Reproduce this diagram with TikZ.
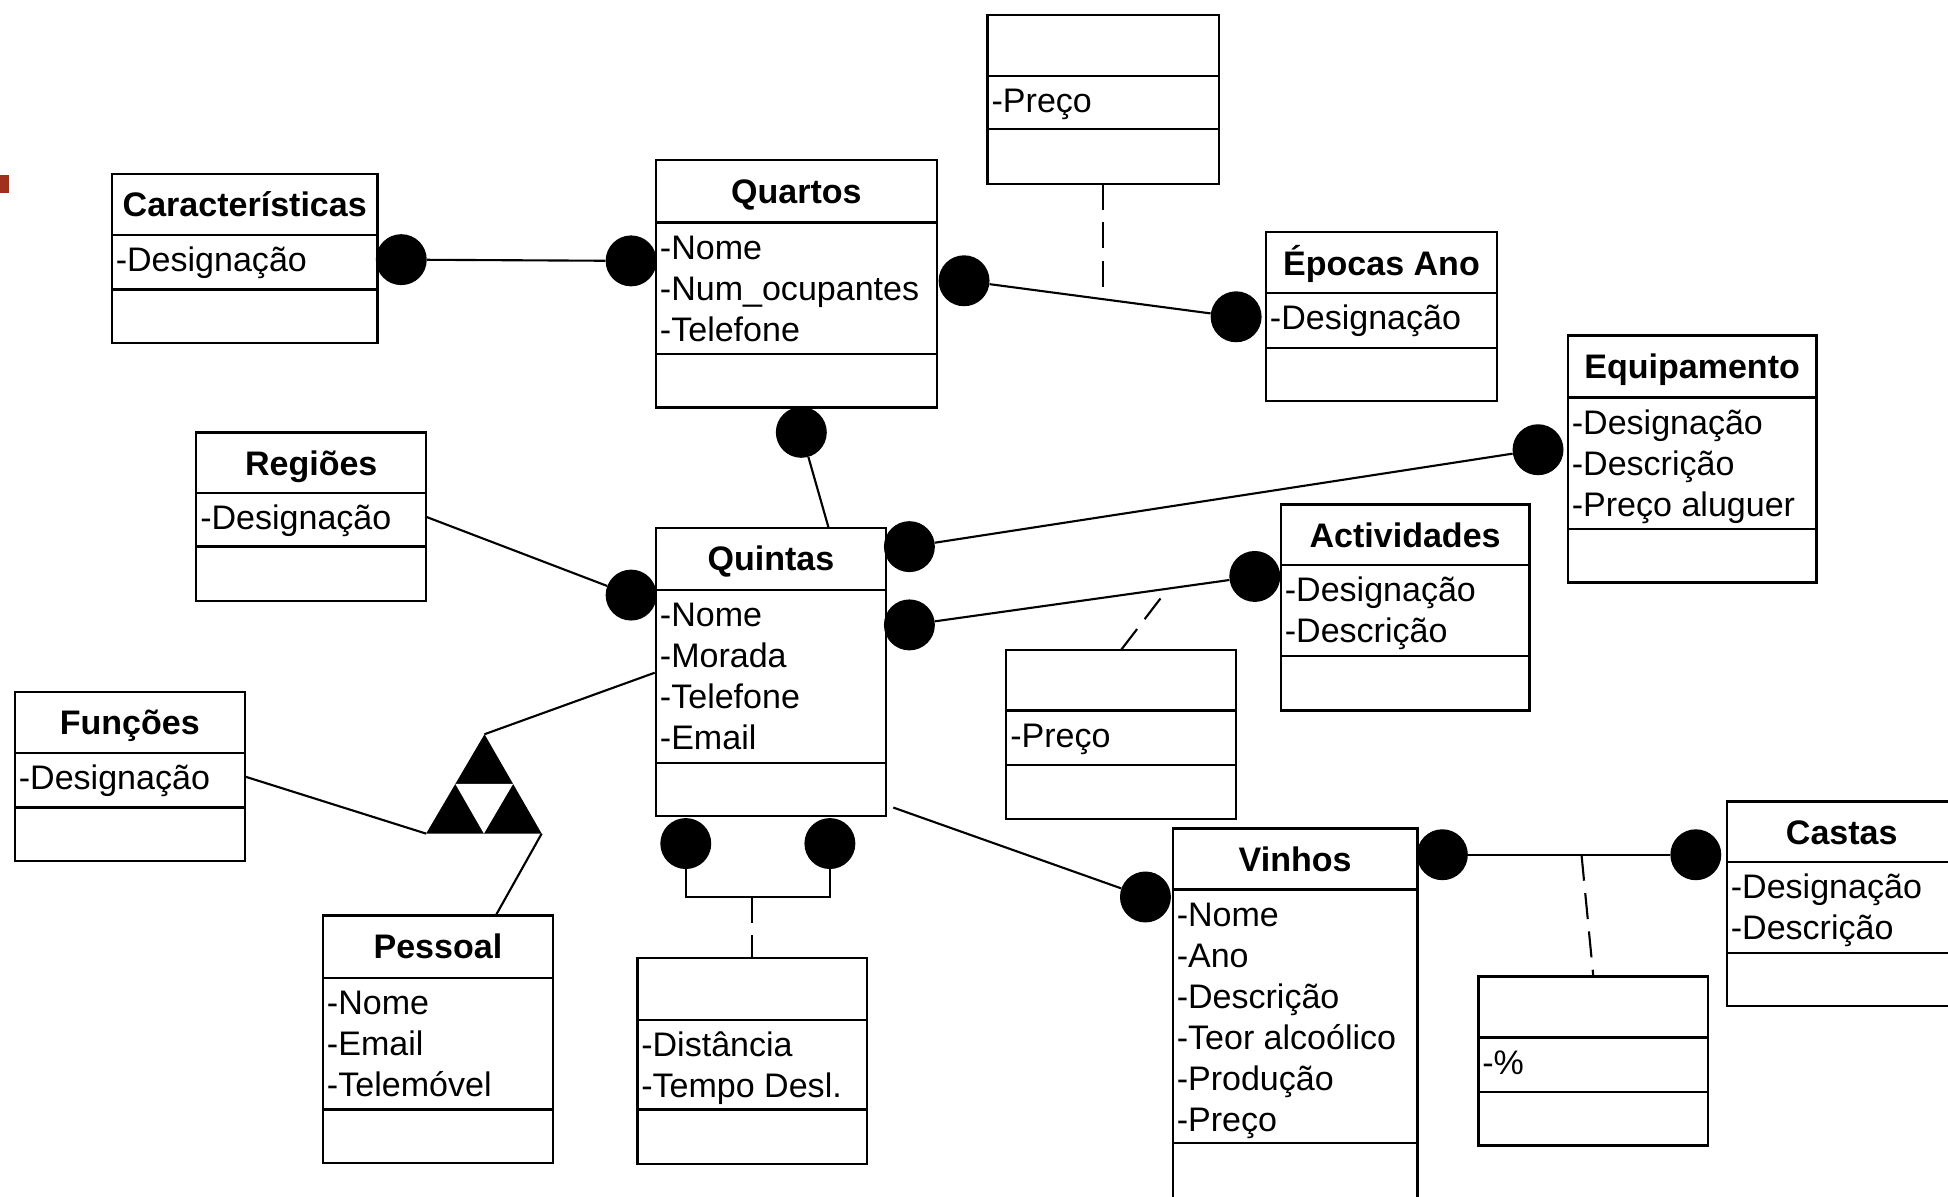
\documentclass[tikz,border=0pt]{standalone}
\usepackage{fontspec}
\setmainfont{Liberation Sans}
\usetikzlibrary{fit,calc}
\definecolor{markred}{RGB}{160,48,30}

\tikzset{
  classbox/.style={draw, line width=1.9pt, inner sep=0pt, outer sep=0pt},
  divider/.style={line width=1.9pt},
  classtitle/.style={font=\fontsize{27.4}{33}\selectfont\bfseries, anchor=base, inner sep=0pt},
  classattr/.style={font=\fontsize{27.4}{33}\selectfont, anchor=base west, inner sep=0pt},
  dot/.style={circle, fill=black, minimum size=41pt, inner sep=0pt},
  link/.style={line width=1.7pt},
  assoc/.style={line width=1.7pt, dash pattern=on 21pt off 10pt},
}

% UML class: name, x1, y1, x2, y2, first divider, second divider, title, attributes
\newcommand\umlclass[9]{%
  \coordinate (#1-nw) at (#2,#3);
  \coordinate (#1-se) at (#4,#5);
  \node[classbox, fit=(#1-nw)(#1-se)] (#1) {};
  \draw[divider] (#2,#6) -- (#4,#6);
  \draw[divider] (#2,#7) -- (#4,#7);
  \node[classtitle] (#1-title) at ({(#2+#4)/2},{#3+34.5}) {#8};
  \foreach \a [count=\i] in {#9} {
    \node[classattr] (#1-a\i) at ({#2+3},{#6+29.5+33*(\i-1)}) {\a};
  }
}

\begin{document}
\begin{tikzpicture}[x=1pt, y=-1pt]
\useasboundingbox (0,0) rectangle (1568,963);
\clip (0,0) rectangle (1568,963);

% small marker on the left edge
\fill[markred] (0,141) rectangle (7,155);

% classes
\umlclass{car}{90}{140}{304}{276}{189}{233}{Características}{-Designação}
\umlclass{quartos}{528}{129}{754}{328}{179}{285}{Quartos}{-Nome,-Num\_ocupantes,-Telefone}
\umlclass{preco1}{795}{12}{981}{148}{61}{104}{}{-Preço}
\umlclass{epocas}{1019}{187}{1205}{323}{236}{280}{Épocas Ano}{-Designação}
\umlclass{equip}{1262}{270}{1462}{469}{320}{426}{Equipamento}{-Designação,-Descrição,-Preço aluguer}
\umlclass{regioes}{158}{348}{343}{484}{397}{440}{Regiões}{-Designação}
\umlclass{quintas}{528}{425}{713}{657}{475}{614}{Quintas}{-Nome,-Morada,-Telefone,-Email}
\umlclass{activ}{1031}{406}{1231}{572}{455}{528}{Actividades}{-Designação,-Descrição}
\umlclass{preco2}{810}{523}{995}{659}{572}{616}{}{-Preço}
\umlclass{funcoes}{12}{557}{197}{693}{606}{650}{Funções}{-Designação}
\umlclass{pessoal}{260}{737}{445}{936}{787}{893}{Pessoal}{-Nome,-Email,-Telemóvel}
\umlclass{dist}{513}{771}{698}{937}{821}{893}{}{-Distância,-Tempo Desl.}
\umlclass{vinhos}{944}{667}{1141}{1000}{716}{920}{Vinhos}{-Nome,-Ano,-Descrição,-Teor alcoólico,-Produção,-Preço}
\umlclass{perc}{1190}{786}{1375}{922}{835}{879}{}{-\%}
\umlclass{castas}{1390}{645}{1575}{810}{694}{767}{Castas}{-Designação,-Descrição}

% association end dots
\node[dot] (d-car)   at (323,209) {};
\node[dot] (d-qL)    at (508,210) {};
\node[dot] (d-qR)    at (776,226) {};
\node[dot] (d-ep)    at (995,255) {};
\node[dot] (d-qB)    at (645,348) {};
\node[dot] (d-eq)    at (1238,362) {};
\node[dot] (d-qiR1)  at (732,440) {};
\node[dot] (d-qiR2)  at (732,503) {};
\node[dot] (d-ac)    at (1010,464) {};
\node[dot] (d-qiL)   at (508,479) {};
\node[dot] (d-qiB1)  at (552,679) {};
\node[dot] (d-qiB2)  at (668,679) {};
\node[dot] (d-viL)   at (922,722) {};
\node[dot] (d-viR)   at (1161,688) {};
\node[dot] (d-ca)    at (1365,688) {};

% connector end points and junctions
\coordinate (q-top)  at (667,425);
\coordinate (q-vi)   at (719,650);
\coordinate (q-fl)   at (527,541.5);
\coordinate (p-top)  at (399,737);
\coordinate (j-ep)   at (888,240.8);
\coordinate (j-ac)   at (940,474);
\coordinate (br1)    at (552,722);
\coordinate (br2)    at (668,722);
\coordinate (j-br)   at (605.5,722);
\coordinate (j-ca)   at (1273,688);

% generalisation triangle
\coordinate (tA) at (390,591);
\coordinate (tB) at (343,671);
\coordinate (tC) at (436,671);
\fill (tA) -- (tB) -- (tC) -- cycle;
\fill[white] ($(tA)!.5!(tB)$) -- ($(tA)!.5!(tC)$) -- ($(tB)!.5!(tC)$) -- cycle;

% associations
\draw[link] (d-car) -- (d-qL);
\draw[link] (d-qR) -- (d-ep);
\draw[assoc] (preco1.south) -- (j-ep);
\draw[link] (d-qB) -- (q-top);
\draw[link] (regioes.east) -- (d-qiL);
\draw[link] (d-qiR1) -- (d-eq);
\draw[link] (d-qiR2) -- (d-ac);
\draw[assoc] (preco2.north) -- (j-ac);
\draw[link] (d-qiB1) -- (br1) -- (br2) -- (d-qiB2);
\draw[assoc] (j-br) -- (dist.north);
\draw[link] (q-vi) -- (d-viL);
\draw[link] (d-viR) -- (d-ca);
\draw[assoc] (j-ca) -- (perc.north);
\draw[link] (q-fl) -- (tA);
\draw[link] (funcoes.east) -- (tB);
\draw[link] (tC) -- (p-top);
\end{tikzpicture}
\end{document}
